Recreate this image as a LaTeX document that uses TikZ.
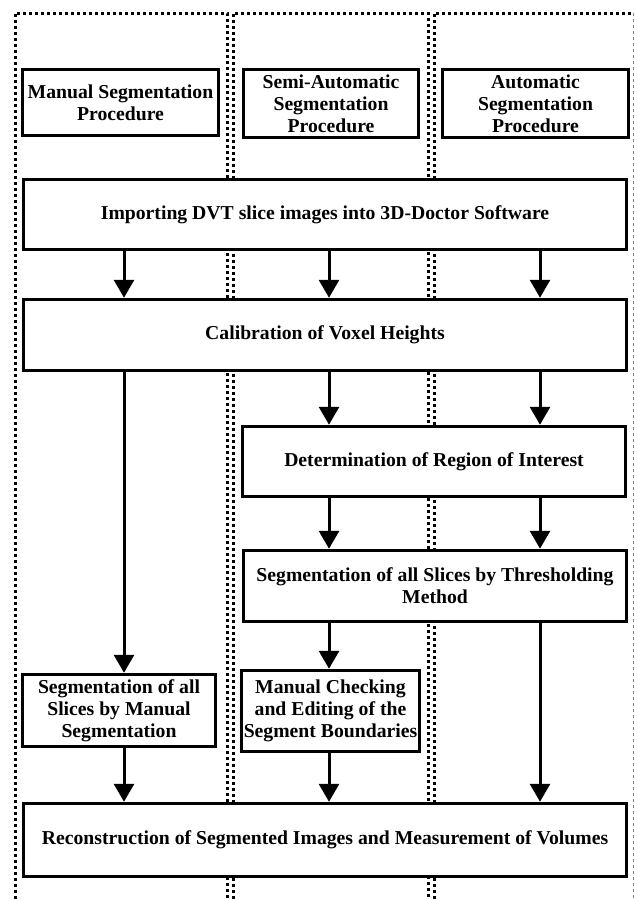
\documentclass[tikz,border=0pt]{standalone}
\usepackage{fontspec}
\setmainfont{Liberation Serif}
\usetikzlibrary{arrows.meta,positioning}
\tikzset{
  stepbox/.style={draw, line width=3.5pt, fill=white, align=center, inner sep=0pt, font=\fontsize{19.7}{22}\selectfont\bfseries},
  arrow/.style={line width=3pt, -{Triangle[width=20pt,length=18pt]}},
  lane/.style={line width=3pt, dash pattern=on 3pt off 3pt}
}

\begin{document}
\begin{tikzpicture}[x=1pt, y=-1pt]
  \useasboundingbox (0,0) rectangle (635,900);
  \clip (0,0) rectangle (635,900);
  % three procedure lanes
  \draw [lane] (15,905) -- (15,13) -- (227,13) -- (227,905);
  \draw [lane] (233,905) -- (233,13) -- (428,13) -- (428,905);
  \draw [lane] (434,905) -- (434,13) -- (633,13);
  \draw [gray, line width=0.8pt, dashed] (633,13) -- (633,905);

  \node [stepbox, minimum width=196pt, minimum height=66pt] (manual) at (120.5,102.5) {Manual Segmentation\\Procedure};
  \node [stepbox, minimum width=175pt, minimum height=68pt] (semi) at (331,103.5) {Semi-Automatic\\Segmentation\\Procedure};
  \node [stepbox, minimum width=186pt, minimum height=68pt] (auto) at (535.5,103.5) {Automatic\\Segmentation\\Procedure};
  \node [stepbox, minimum width=603pt, minimum height=70pt] (import) at (325,214.5) {Importing DVT slice images into 3D-Doctor Software};
  \node [stepbox, minimum width=603pt, minimum height=71pt] (calib) at (325,335) {Calibration of Voxel Heights};
  \node [stepbox, minimum width=383pt, minimum height=70pt] (roi) at (434,461.5) {Determination of Region of Interest};
  \node [stepbox, minimum width=383pt, minimum height=71pt] (thresh) at (435,586) {Segmentation of all Slices by Thresholding\\Method};
  \node [stepbox, minimum width=193pt, minimum height=72pt] (segman) at (119,710.5) {Segmentation of all\\Slices by Manual\\Segmentation};
  \node [stepbox, minimum width=178pt, minimum height=81pt] (check) at (330.5,711) {Manual Checking\\and Editing of the\\Segment Boundaries};
  \node [stepbox, minimum width=603pt, minimum height=73pt] (recon) at (325,840) {Reconstruction of Segmented Images and Measurement of Volumes};

  % arrow columns
  \coordinate (c1) at (124,0);
  \coordinate (c2) at (329,0);
  \coordinate (c3) at (540,0);

  \draw [arrow] (import.south -| c1) -- (calib.north -| c1);
  \draw [arrow] (import.south -| c2) -- (calib.north -| c2);
  \draw [arrow] (import.south -| c3) -- (calib.north -| c3);
  \draw [arrow] (calib.south -| c1) -- (segman.north -| c1);
  \draw [arrow] (calib.south -| c2) -- (roi.north -| c2);
  \draw [arrow] (calib.south -| c3) -- (roi.north -| c3);
  \draw [arrow] (roi.south -| c2) -- (thresh.north -| c2);
  \draw [arrow] (roi.south -| c3) -- (thresh.north -| c3);
  \draw [arrow] (thresh.south -| c2) -- (check.north -| c2);
  \draw [arrow] (thresh.south -| c3) -- (recon.north -| c3);
  \draw [arrow] (segman.south -| c1) -- (recon.north -| c1);
  \draw [arrow] (check.south -| c2) -- (recon.north -| c2);
\end{tikzpicture}
\end{document}
